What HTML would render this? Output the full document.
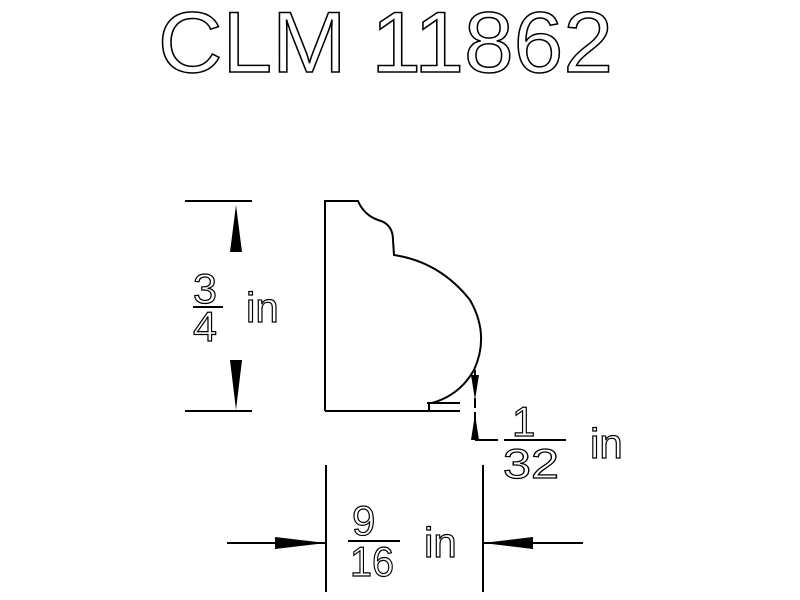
<!DOCTYPE html>
<html><head><style>body{margin:0;background:#fff}svg{display:block}</style></head>
<body>
<svg width="800" height="600" xmlns="http://www.w3.org/2000/svg">
<g font-family="Liberation Sans, sans-serif" fill="none" stroke="#000">
<text x="158" y="72" font-size="86" stroke-width="1.5" textLength="455" lengthAdjust="spacingAndGlyphs">CLM 11862</text>
<g stroke-width="1.2" font-size="42">
<text x="193" y="303" textLength="24" lengthAdjust="spacingAndGlyphs">3</text>
<text x="193" y="341" textLength="24" lengthAdjust="spacingAndGlyphs">4</text>
<text x="246" y="322">in</text>
<text x="512" y="436">1</text>
<text x="503" y="478" textLength="56" lengthAdjust="spacingAndGlyphs">32</text>
<text x="590" y="458">in</text>
<text x="352" y="535">9</text>
<text x="350" y="576" textLength="44" lengthAdjust="spacingAndGlyphs">16</text>
<text x="424" y="557">in</text>
</g>
<g stroke-width="2">
<line x1="193" y1="307" x2="223" y2="307"/>
<line x1="504" y1="440" x2="566" y2="440"/>
<line x1="348" y1="541" x2="400" y2="541"/>
<line x1="185" y1="201" x2="252" y2="201"/>
<line x1="185" y1="411" x2="252" y2="411"/>
<line x1="326" y1="465" x2="326" y2="592"/>
<line x1="483" y1="465" x2="483" y2="592"/>
<line x1="227" y1="543" x2="326" y2="543"/>
<line x1="483" y1="543" x2="583" y2="543"/>
<path d="M325 411 L325 201 L358 201 Q364 215 378 220 Q393 224 393 240 L394 255 Q440 262 470 300 Q490 335 474 370 Q460 395 432 403"/>
<line x1="325" y1="411" x2="460" y2="411"/>
<line x1="427" y1="403" x2="460" y2="403"/>
<line x1="429" y1="403" x2="429" y2="411"/>
<line x1="475" y1="370" x2="475" y2="440" stroke-dasharray="10,4"/>
<line x1="475" y1="440" x2="498" y2="440"/>
</g>
<g fill="#000" stroke="none">
<polygon points="236,205 230,252 242,252"/>
<polygon points="236,410 230,360 242,360"/>
<polygon points="326,543 275,537 275,549"/>
<polygon points="483,543 533,537 533,549"/>
<polygon points="475,400 471,375 479,375"/>
<polygon points="475,414 471,440 479,440"/>
</g>
</g>
</svg>
</body></html>
